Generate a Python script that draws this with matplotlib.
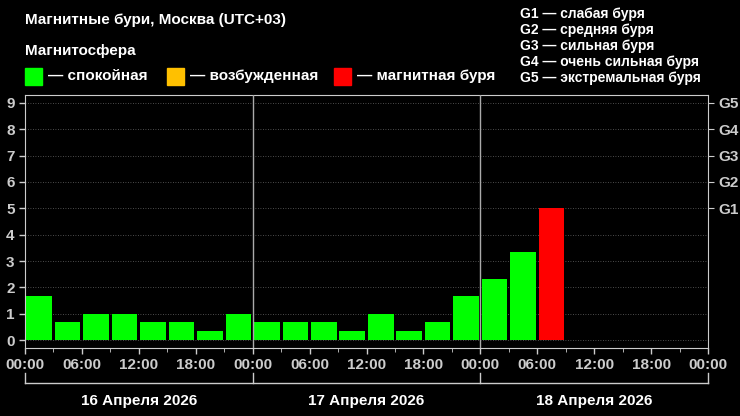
import matplotlib.pyplot as plt
import numpy as np
from matplotlib.patches import Rectangle

kp = [1.67, 0.67, 1.0, 1.0, 0.67, 0.67, 0.33, 1.0,
      0.67, 0.67, 0.67, 0.33, 1.0, 0.33, 0.67, 1.67,
      2.33, 3.33, 5.0]
hour_labels = ['00:00', '06:00', '12:00', '18:00'] * 3 + ['00:00']
days = ['16 Апреля 2026', '17 Апреля 2026', '18 Апреля 2026']
g_labels = ['G1', 'G2', 'G3', 'G4', 'G5']
g_text = ['G1 — слабая буря', 'G2 — средняя буря', 'G3 — сильная буря',
          'G4 — очень сильная буря', 'G5 — экстремальная буря']

GREEN, YELLOW, RED = '#00ff00', '#ffc000', '#ff0000'

def color(v):
    if v >= 5:
        return RED
    if v >= 4:
        return YELLOW
    return GREEN

plt.rcParams['font.family'] = ['Liberation Sans', 'DejaVu Sans']
plt.rcParams['font.weight'] = 'bold'
FS = 11

fig = plt.figure(figsize=(7.4, 4.16), dpi=100, facecolor='black')
W, H = 740, 416
ax = fig.add_axes([25 / W, 1 - 348 / H, (708 - 25) / W, (348 - 95) / H], facecolor='black')

x = np.arange(len(kp)) + 0.5
ax.bar(x, kp, width=0.9, color=[color(v) for v in kp], zorder=3)
ax.set_xlim(0, 24)
ax.set_ylim(-0.3, 9.3)

for y in range(10):
    ax.axhline(y, color='#666666', lw=0.6, ls=(0, (1, 2)), zorder=1)
for d in (8, 16):
    ax.axvline(d, color='#aaaaaa', lw=1, zorder=4)

for s in ax.spines.values():
    s.set_color('#cccccc')
ax.set_yticks(range(10))
ax.set_yticklabels([str(i) for i in range(10)], color='white', fontsize=FS, fontweight='bold')
ax.set_xticks(np.arange(0, 25, 2))
ax.set_xticklabels(hour_labels, color='white', fontsize=FS, fontweight='bold')
ax.set_xticks(np.arange(0, 25, 1), minor=True)
ax.tick_params(colors='#cccccc', length=4, width=1)
ax.tick_params(which='minor', colors='#cccccc', length=3)

ax2 = ax.twinx()
ax2.set_ylim(ax.get_ylim())
ax2.set_yticks(range(5, 10))
ax2.set_yticklabels(g_labels, color='white', fontsize=FS, fontweight='bold')
ax2.tick_params(colors='#cccccc', length=4)
for s in ax2.spines.values():
    s.set_visible(False)

# day brackets under the axis
trans = ax.get_xaxis_transform()
yb = -0.14
ax.plot([0, 24], [yb, yb], transform=trans, color='#cccccc', lw=1, clip_on=False)
for d in (0, 8, 16, 24):
    ax.plot([d, d], [yb, yb + 0.04], transform=trans, color='#cccccc', lw=1, clip_on=False)
for i, name in enumerate(days):
    ax.text(i * 8 + 4, -0.18, name, transform=trans, color='white', fontsize=FS,
            fontweight='bold', ha='center', va='top')

fig.text(25 / W, 1 - 20 / H, 'Магнитные бури, Москва (UTC+03)', color='white',
         fontsize=FS, fontweight='bold', va='center')
fig.text(25 / W, 1 - 51 / H, 'Магнитосфера', color='white', fontsize=FS,
         fontweight='bold', va='center')
for xs, c, lab in [(25, GREEN, '— спокойная'), (167, YELLOW, '— возбужденная'),
                   (334, RED, '— магнитная буря')]:
    fig.patches.append(Rectangle((xs / W, 1 - 85 / H), 17 / W, 17 / H, color=c,
                                 transform=fig.transFigure))
    fig.text((xs + 23) / W, 1 - 76 / H, lab, color='white', fontsize=FS,
             fontweight='bold', va='center')
for i, t in enumerate(g_text):
    fig.text(520 / W, 1 - (14 + i * 16) / H, t, color='white', fontsize=10,
             fontweight='bold', va='center')

fig.savefig('out.png', facecolor='black')
